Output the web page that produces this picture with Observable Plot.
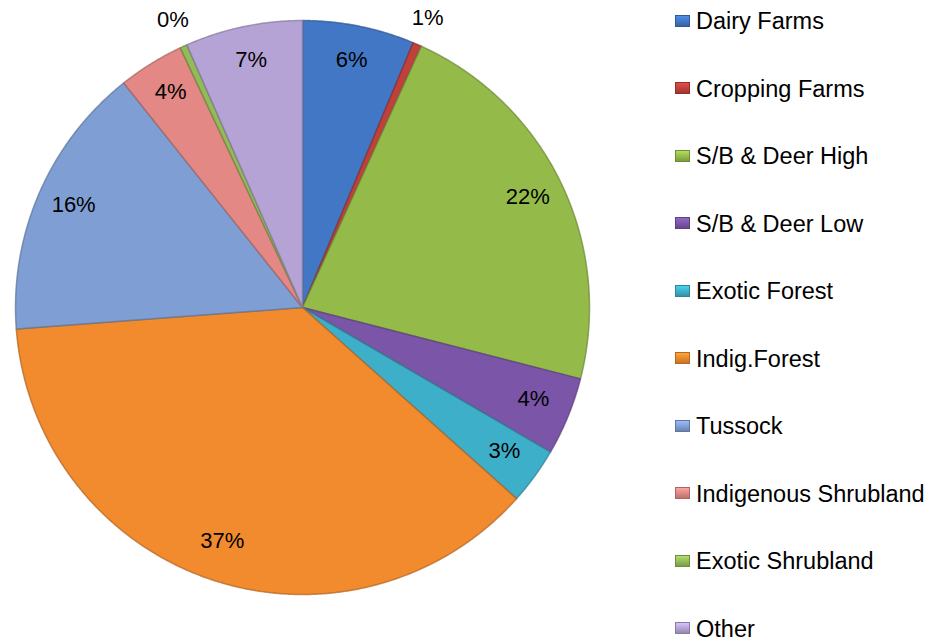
<!DOCTYPE html>
<html>
<head>
<meta charset="utf-8">
<script src="https://cdn.jsdelivr.net/npm/d3@7"></script>
<script src="https://cdn.jsdelivr.net/npm/@observablehq/plot@0.6"></script>
<style>
  html, body { margin: 0; padding: 0; background: #fff; }
  #wrap { position: relative; width: 933px; height: 644px; overflow: hidden; font-family: "Liberation Sans", Arial, sans-serif; }
  #legend { position: absolute; left: 675px; top: 0; }
  .item { position: absolute; left: 0; white-space: nowrap; font-size: 23.5px; color: #000; height: 28px; line-height: 28px; }
  .sw { display: inline-block; width: 15px; height: 12px; margin-right: 6px; vertical-align: middle; position: relative; top: -2px; }
</style>
</head>
<body>
<div id="wrap"><div id="chart"></div><div id="legend"></div></div>
<script>
const categories = ["Dairy Farms", "Cropping Farms", "S/B & Deer High", "S/B & Deer Low", "Exotic Forest",
  "Indig.Forest", "Tussock", "Indigenous Shrubland", "Exotic Shrubland", "Other"];
const shares = [6.3, 0.5, 22.2, 4.4, 3.2, 37.2, 15.5, 3.7, 0.4, 6.6];
const labels = ["6%", "1%", "22%", "4%", "3%", "37%", "16%", "4%", "0%", "7%"];
const colors = ["#4177c4", "#c0403c", "#94bb4a", "#7b56a8", "#3eafc9", "#f28a2e", "#7f9ed3", "#e38884", "#93bb58", "#b4a3d4"];

const arcs = d3.pie().sort(null).value(d => d)(shares);

function slicePolygon(a0, a1) {
  const n = Math.max(2, Math.ceil((a1 - a0) / 0.005));
  const pts = [[0, 0]];
  for (let i = 0; i <= n; i++) {
    const a = a0 + (a1 - a0) * i / n;
    pts.push([Math.sin(a), -Math.cos(a)]);
  }
  pts.push([0, 0]);
  return pts;
}

const slices = arcs.map((a, i) => ({
  type: "Feature",
  properties: {
    name: categories[i],
    fill: colors[i],
    stroke: d3.color(colors[i]).darker(0.9).formatHex()
  },
  geometry: { type: "Polygon", coordinates: [slicePolygon(a.startAngle, a.endAngle)] }
}));

const labelData = arcs.map((a, i) => {
  const mid = (a.startAngle + a.endAngle) / 2;
  const r = shares[i] < 2 ? 1.09 : 0.87;
  return { x: r * Math.sin(mid), y: -r * Math.cos(mid), text: labels[i] };
});

const R = 287, cx = 302, cy = 307;
const W = 933, H = 644;

const chart = Plot.plot({
  width: W,
  height: H,
  marginLeft: cx - R,
  marginTop: cy - R,
  marginRight: W - (cx + R),
  marginBottom: H - (cy + R),
  projection: {
    type: "identity",
    domain: { type: "MultiPoint", coordinates: [[-1, -1], [1, 1]] },
    clip: false
  },
  marks: [
    Plot.geo(slices, {
      fill: d => d.properties.fill,
      stroke: d => d.properties.stroke,
      strokeWidth: 1.5,
      strokeOpacity: 0.7,
      strokeLinejoin: "round"
    }),
    Plot.text(labelData, {
      x: "x",
      y: "y",
      text: "text",
      dy: -3,
      fontSize: 22,
      fontFamily: "Liberation Sans, Arial, sans-serif",
      fill: "#000"
    })
  ]
});
document.getElementById("chart").appendChild(chart);

const legend = document.getElementById("legend");
categories.forEach((c, i) => {
  const item = document.createElement("div");
  item.className = "item";
  item.style.top = (21 + i * 67.5 - 14) + "px";
  const sw = document.createElement("span");
  sw.className = "sw";
  const base = d3.color(colors[i]);
  sw.style.background = `linear-gradient(${base.brighter(0.5).formatHex()}, ${base.darker(0.5).formatHex()})`;
  sw.style.border = `1px solid ${base.darker(0.8).formatHex()}`;
  sw.style.boxSizing = "border-box";
  item.appendChild(sw);
  item.appendChild(document.createTextNode(c));
  legend.appendChild(item);
});
</script>
</body>
</html>
